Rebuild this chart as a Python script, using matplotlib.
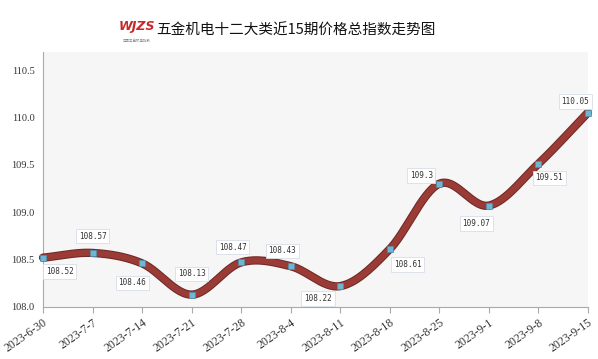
import numpy as np
import matplotlib.pyplot as plt
import matplotlib.patheffects as pe

dates = ['2023-6-30', '2023-7-7', '2023-7-14', '2023-7-21', '2023-7-28', '2023-8-4',
         '2023-8-11', '2023-8-18', '2023-8-25', '2023-9-1', '2023-9-8', '2023-9-15']
values = [108.52, 108.57, 108.46, 108.13, 108.47, 108.43,
          108.22, 108.61, 109.3, 109.07, 109.51, 110.05]
yticks = [108.0, 108.5, 109.0, 109.5, 110.0, 110.5]
# label offsets in points (dx, dy)
offsets = [(12, -10), (0, 12), (-7, -14), (0, 15), (-6, 11), (-6, 11),
           (-16, -9), (13, -11), (-13, 6), (-9, -13), (8, -10), (-9, 8)]


def smooth(x, y, n=30):
    # catmull-rom style curve through the points
    x = np.asarray(x, float)
    y = np.asarray(y, float)
    px = np.concatenate([[2 * x[0] - x[1]], x, [2 * x[-1] - x[-2]]])
    py = np.concatenate([[2 * y[0] - y[1]], y, [2 * y[-1] - y[-2]]])
    xs, ys = [], []
    t = np.linspace(0, 1, n, endpoint=False)
    for i in range(1, len(px) - 2):
        for p, out in ((px, xs), (py, ys)):
            p0, p1, p2, p3 = p[i - 1], p[i], p[i + 1], p[i + 2]
            out.extend(0.5 * (2 * p1 + (-p0 + p2) * t
                              + (2 * p0 - 5 * p1 + 4 * p2 - p3) * t ** 2
                              + (-p0 + 3 * p1 - 3 * p2 + p3) * t ** 3))
    xs.append(x[-1])
    ys.append(y[-1])
    return np.array(xs), np.array(ys)


fig = plt.figure(figsize=(5.98, 3.59), dpi=100)
ax = fig.add_axes([0.072, 0.145, 0.911, 0.71])
ax.set_facecolor('#f6f6f6')

x = np.arange(len(dates))
sx, sy = smooth(x, values)
ax.plot(sx, sy, color='#9b3b36', lw=4.5, solid_capstyle='round',
        path_effects=[pe.Stroke(linewidth=6, foreground='#6e2a27'), pe.Normal()],
        zorder=3, clip_on=False)
ax.plot(x, values, 's', ms=4.5, color='#6fb6d3', mec='#4a90b0', mew=0.5, zorder=4,
        clip_on=False)

for xi, v, (dx, dy) in zip(x, values, offsets):
    ax.annotate(f'{v:g}', (xi, v), xytext=(dx, dy), textcoords='offset points',
                ha='center', va='center', fontsize=5.5, family='DejaVu Sans Mono',
                color='#333333',
                bbox=dict(boxstyle='square,pad=0.35', fc='white', ec='#d8dde6', lw=0.6),
                zorder=5)

ax.set_xlim(0, len(dates) - 1)
ax.set_ylim(108.0, 110.69)
ax.set_yticks(yticks)
ax.set_yticklabels([f'{t:.1f}' for t in yticks], family='Liberation Serif', fontsize=7.5,
                   color='#333333')
ax.set_xticks(x)
ax.set_xticklabels(dates, rotation=35, ha='right', rotation_mode='anchor',
                   family='Liberation Serif', fontsize=8.5, color='#333333')
ax.tick_params(axis='x', length=4, color='#aaaaaa', pad=3)
ax.tick_params(axis='y', length=0, pad=6)
for s in ['top', 'right']:
    ax.spines[s].set_visible(False)
ax.spines['left'].set_color('#aaaaaa')
ax.spines['bottom'].set_color('#aaaaaa')

# logo + title
fig.text(0.229, 0.925, 'WJZS', color='#c8282a', fontsize=9, fontweight='bold',
         style='italic', ha='center', va='center', family='DejaVu Sans')
fig.text(0.229, 0.885, '中国五金机电指数', color='#888888', fontsize=2.5,
         ha='center', va='center', family=['Noto Sans CJK SC', 'DejaVu Sans'])
fig.text(0.262, 0.915, '五金机电十二大类近15期价格总指数走势图', fontsize=10.5,
         ha='left', va='center', family=['Noto Sans CJK SC', 'DejaVu Sans'], color='#111111')

fig.savefig('out.png', dpi=100)
